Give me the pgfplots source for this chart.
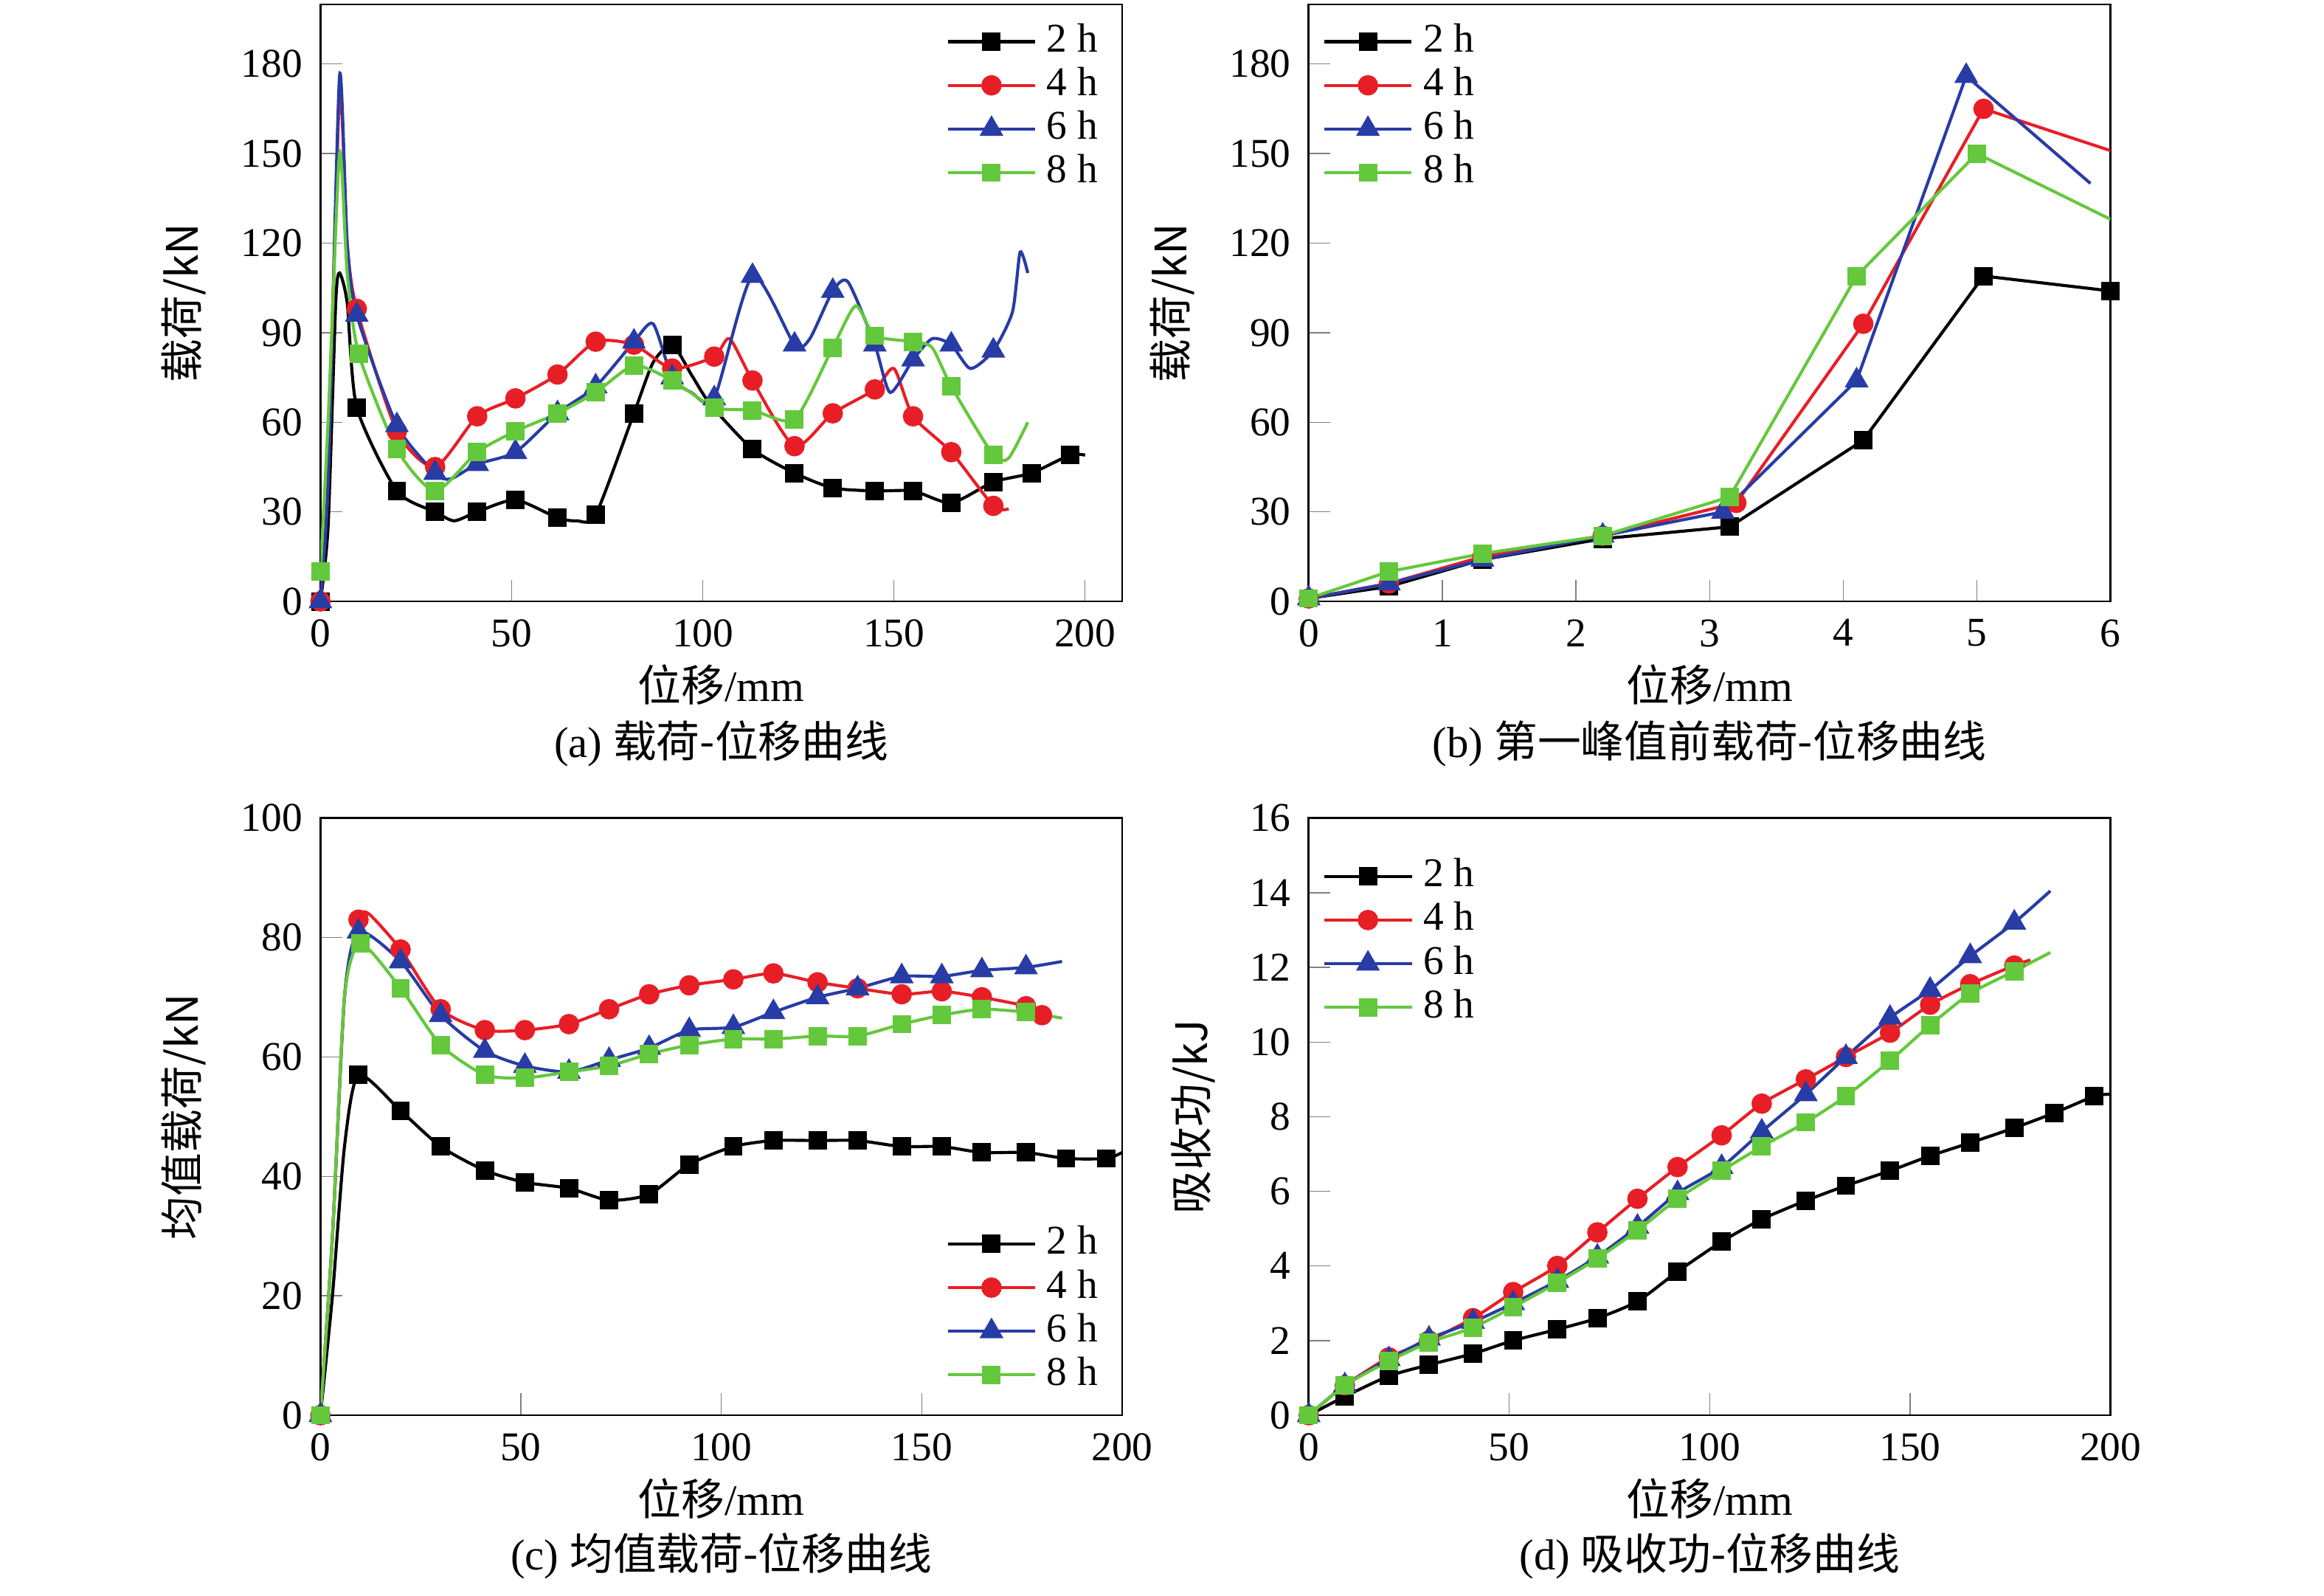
\documentclass[border=0pt]{standalone}
\usepackage{pgfplots}
\pgfplotsset{compat=1.18}
\usepackage{fontspec}
\setmainfont{Liberation Serif}
\newfontfamily\cjk{Noto Sans CJK SC}
\definecolor{cr}{RGB}{232,30,38}
\definecolor{cb}{RGB}{40,60,165}
\definecolor{cg}{RGB}{100,200,60}
\pgfplotsset{
  base/.style={width=5.52cm,height=4.11cm,scale only axis,
    tick align=inside, xtick pos=bottom, ytick pos=left,
    /pgf/number format/assume math mode=true,
    tick label style={font=\fontsize{8}{9}\selectfont},
    label style={font=\fontsize{8.5}{10}\selectfont},
    xlabel style={yshift=0.12cm},
    legend style={draw=none,fill=none,font=\fontsize{8}{9}\selectfont,row sep=-2.5pt,inner sep=1pt},
    legend cell align=left,
    every axis plot/.append style={line width=0.6pt},
    xlabel={{\cjk 位移}/mm}, ymin=0},
  s2/.style={black,mark=square*,mark size=1.5pt,legend image post style={mark indices={2}}},
  s4/.style={cr,mark=*,mark size=1.7pt,legend image post style={mark indices={2}}},
  s6/.style={cb,mark=triangle*,mark size=2.1pt,legend image post style={mark indices={2}}},
  s8/.style={cg,mark=square*,mark size=1.5pt,legend image post style={mark indices={2}}},
  lne/.style={legend style={at={(0.99,0.995)},anchor=north east}},
  lnw/.style={legend style={at={(0.01,0.995)},anchor=north west}},
}
\begin{document}
\begin{tikzpicture}
\path (0,0) rectangle (16cm,10.86cm);
% (a)
\begin{axis}[base,at={(2.206cm,6.72cm)},anchor=south west,xmin=0,xmax=209.7,ymax=200,
  xtick={0,50,100,150,200},ytick={0,30,60,90,120,150,180},ylabel={\cjk 载荷/kN},lne]
\addplot[s2,smooth,tension=0.4,mark indices={1,6,7,8,10,11,12,14,15,17,20,21,22,23,24,25,26,27,28}] coordinates {(0,0)(2,25)(4,100)(5,110)(7,100)(9.5,65)(20,37)(30,30)(35,27)(41,30)(51,34)(62,28)(67,27)(72,29)(82,63)(87,80)(92,86)(97,76)(102,66)(113,51)(124,43)(134,38)(145,37)(155,37)(165,33)(176,40)(186,43)(196,49)(200,49)};
\addplot[s4,smooth,tension=0.4,mark indices={1,5,6,7,8,9,10,11,12,13,14,16,17,18,19,21,22,23}] coordinates {(0,0)(2,40)(5,170)(7,120)(9.5,98)(20,57)(30,45)(41,62)(51,68)(62,76)(72,87)(82,86)(92,78)(103,82)(107,88)(113,74)(124,52)(134,63)(145,71)(150,78)(155,62)(165,50)(176,32)(180,31)};
\addplot[s6,smooth,tension=0.4,mark indices={1,5,6,7,9,10,11,12,13,15,17,18,19,21,23,25,27,29}] coordinates {(0,0)(2,40)(5,176)(7,120)(9.5,96)(20,59)(30,43)(34,41)(41,46)(51,50)(62,63)(72,72)(82,87)(87,93)(92,75)(97,70)(103,68)(113,109)(124,86)(128,88)(134,104)(138,107)(145,86)(149,70)(155,81)(160,88)(165,86)(170,78)(176,84)(181,97)(183,117)(185,110)};
\addplot[s8,smooth,tension=0.4,mark indices={1,5,6,7,8,9,10,11,12,13,14,15,16,17,19,20,22,23}] coordinates {(0,10)(2,60)(5,150)(7,110)(10,83)(20,51)(30,37)(41,50)(51,57)(62,63)(72,70)(82,79)(92,74)(103,65)(113,64)(124,61)(134,85)(140,99)(145,89)(155,87)(160,85)(165,72)(176,49)(180,48)(185,60)};
\legend{2 h,4 h,6 h,8 h}
\end{axis}
% (b)
\begin{axis}[base,at={(9.01cm,6.72cm)},anchor=south west,xmin=0,xmax=6,ymax=200,
  xtick={0,1,2,3,4,5,6},ytick={0,30,60,90,120,150,180},ylabel={\cjk 载荷/kN},lnw]
\addplot[s2] coordinates {(0,1)(0.6,5)(1.3,14)(2.2,21)(3.15,25)(4.15,54)(5.05,109)(6,104)};
\addplot[s4,mark indices={1,2,3,4,5,6,7}] coordinates {(0,1)(0.6,6)(1.3,15)(2.2,22)(3.2,33)(4.15,93)(5.05,165)(6,151)};
\addplot[s6,mark indices={1,2,3,4,5,6,7}] coordinates {(0,1)(0.6,6)(1.3,14)(2.2,22)(3.1,30)(4.1,74)(4.92,176)(5.85,140)};
\addplot[s8,mark indices={1,2,3,4,5,6,7}] coordinates {(0,1)(0.6,10)(1.3,16)(2.2,22)(3.15,35)(4.1,109)(5,150)(6,128)};
\legend{2 h,4 h,6 h,8 h}
\end{axis}
% (c)
\begin{axis}[base,at={(2.206cm,1.118cm)},anchor=south west,xmin=0,xmax=200,ymax=100,
  xtick={0,50,100,150,200},ytick={0,20,40,60,80,100},ylabel={\cjk 均值载荷/kN},
  legend style={at={(0.99,0.01)},anchor=south east}]
\addplot[s2,smooth,tension=0.4,mark indices={1,4,5,6,7,8,9,10,11,12,13,14,15,16,17,18,19,20,21,22}] coordinates {(0,0)(3,20)(6,45)(9.5,57)(20,51)(30,45)(41,41)(51,39)(62,38)(72,36)(82,37)(92,42)(103,45)(113,46)(124,46)(134,46)(145,45)(155,45)(165,44)(176,44)(186,43)(196,43)(200,44)};
\addplot[s4,smooth,tension=0.4,mark indices={1,4,6,7,8,9,10,11,12,13,14,15,16,17,18,19,20,21,22}] coordinates {(0,0)(3,30)(6,70)(9.5,83)(12,84)(20,78)(30,68)(41,64.5)(51,64.5)(62,65.5)(72,68)(82,70.5)(92,72)(103,73)(113,74)(124,72.5)(134,71.5)(145,70.5)(155,71)(165,70)(176,68.5)(180,67)};
\addplot[s6,smooth,tension=0.4,mark indices={1,4,5,6,7,8,9,10,11,12,13,14,15,16,17,18,19,20}] coordinates {(0,0)(3,30)(6,70)(9.5,81)(20,76)(30,67)(41,61)(51,58.5)(62,57.5)(72,59.5)(82,61.5)(92,64.5)(103,65)(113,67.5)(124,70)(134,71.5)(145,73.5)(155,73.5)(165,74.5)(176,75)(185,76)};
\addplot[s8,smooth,tension=0.4,mark indices={1,4,5,6,7,8,9,10,11,12,13,14,15,16,17,18,19,20}] coordinates {(0,0)(3,30)(6,70)(10,79)(20,71.5)(30,62)(41,57)(51,56.5)(62,57.5)(72,58.5)(82,60.5)(92,62)(103,63)(113,63)(124,63.5)(134,63.5)(145,65.5)(155,67)(165,68)(176,67.5)(185,66.5)};
\legend{2 h,4 h,6 h,8 h}
\end{axis}
% (d)
\begin{axis}[base,at={(9.01cm,1.118cm)},anchor=south west,xmin=0,xmax=200,ymax=16,
  xtick={0,50,100,150,200},ytick={0,2,4,6,8,10,12,14,16},ylabel={\cjk 吸收功/kJ},
  legend style={at={(0.01,0.96)},anchor=north west}]
\addplot[s2,smooth,tension=0.4,mark indices={1,2,3,4,5,6,7,8,9,10,11,12,13,14,15,16,17,18,19,20}] coordinates {(0,0)(9,0.5)(20,1.05)(30,1.35)(41,1.65)(51,2.0)(62,2.3)(72,2.6)(82,3.05)(92,3.85)(103,4.65)(113,5.25)(124,5.75)(134,6.15)(145,6.55)(155,6.95)(165,7.3)(176,7.7)(186,8.1)(196,8.55)(200,8.6)};
\addplot[s4,smooth,tension=0.4,mark indices={1,2,3,4,5,6,7,8,9,10,11,12,13,14,15,16,17,18}] coordinates {(0,0)(9,0.8)(20,1.55)(30,2.0)(41,2.6)(51,3.3)(62,4.0)(72,4.9)(82,5.8)(92,6.65)(103,7.5)(113,8.35)(124,9.0)(134,9.6)(145,10.25)(155,11.0)(165,11.55)(176,12.05)(180,12.2)};
\addplot[s6,smooth,tension=0.4,mark indices={1,2,3,4,5,6,7,8,9,10,11,12,13,14,15,16,17,18}] coordinates {(0,0)(9,0.8)(20,1.5)(30,2.05)(41,2.5)(51,3.0)(62,3.6)(72,4.25)(82,5.05)(92,5.95)(103,6.65)(113,7.6)(124,8.6)(134,9.6)(145,10.65)(155,11.4)(165,12.3)(176,13.2)(185,14.05)};
\addplot[s8,smooth,tension=0.4,mark indices={1,2,3,4,5,6,7,8,9,10,11,12,13,14,15,16,17,18}] coordinates {(0,0)(9,0.8)(20,1.45)(30,1.95)(41,2.35)(51,2.9)(62,3.55)(72,4.2)(82,4.95)(92,5.8)(103,6.55)(113,7.2)(124,7.85)(134,8.55)(145,9.5)(155,10.45)(165,11.3)(176,11.9)(185,12.4)};
\legend{2 h,4 h,6 h,8 h}
\end{axis}
\node[font=\fontsize{8.5}{10}\selectfont] at (4.966cm,5.74cm) {(a) {\cjk 载荷-位移曲线}};
\node[font=\fontsize{8.5}{10}\selectfont] at (11.77cm,5.74cm) {(b) {\cjk 第一峰值前载荷-位移曲线}};
\node[font=\fontsize{8.5}{10}\selectfont] at (4.966cm,0.15cm) {(c) {\cjk 均值载荷-位移曲线}};
\node[font=\fontsize{8.5}{10}\selectfont] at (11.77cm,0.15cm) {(d) {\cjk 吸收功-位移曲线}};
\end{tikzpicture}
\end{document}
